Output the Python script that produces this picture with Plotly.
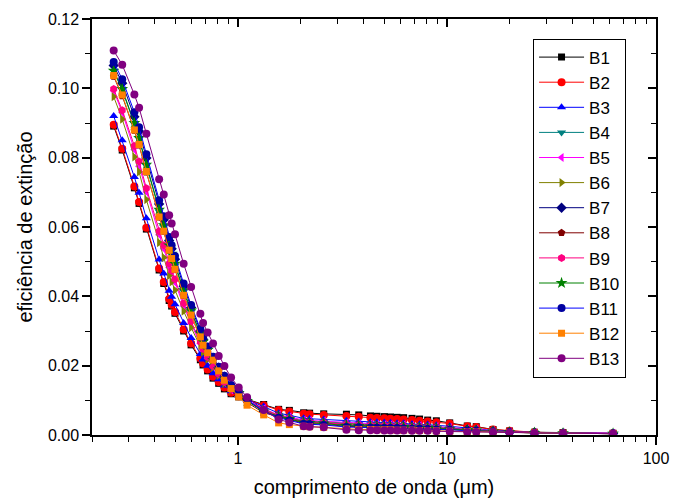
import plotly.graph_objects as go

# wavelength (micrometres)
wavelength = [0.254, 0.279, 0.319, 0.336, 0.364, 0.419, 0.441, 0.468, 0.481, 0.499, 0.549, 0.596,
              0.660, 0.680, 0.715, 0.759, 0.808, 0.860, 0.926, 1.007, 1.104, 1.326, 1.564, 1.76,
              2.06, 2.20, 2.57, 3.30, 3.78, 4.30, 4.62, 5.01, 5.36, 5.77, 6.20, 6.80, 7.39, 8.08,
              8.89, 10.3, 12.5, 13.8, 16.6, 19.9, 26.2, 35.9, 62.3]

b1 = [.0891, .0822, .0713, .0668, .0594, .0476, .0437, .0388, .0372, .0351, .0300, .0260, .0217, .0202, .0185, .0164,
      .0149, .0133, .0119, .0110, .0103, .0088, .0074, .0071, .0064, .0063, .0061, .0060, .0058, .0055, .0054, .0053,
      .0052, .0051, .0050, .0048, .0046, .0043, .0041, .0035, .0026, .0024, .0016, .00115, .0008, .0007, .0005]
b2 = [.0895, .0826, .0717, .0672, .0598, .0480, .0441, .0392, .0376, .0355, .0304, .0264, .0221, .0206, .0189, .0168,
      .0153, .0137, .0122, .0112, .0102, .0086, .0072, .0068, .0061, .0060, .0058, .0055, .0053, .0050, .0049, .0048,
      .0047, .0046, .0045, .0043, .0041, .0039, .0037, .0033, .0025, .0023, .0016, .0012, .0008, .0006, .0005]
b3 = [.0920, .0850, .0744, .0699, .0625, .0506, .0466, .0416, .0399, .0377, .0323, .0280, .0234, .0218, .0200, .0178,
      .0161, .0143, .0126, .0114, .0102, .0082, .0063, .0057, .0048, .0047, .0045, .0041, .0039, .0037, .0037, .0036,
      .0035, .0034, .0034, .0032, .0031, .0030, .0028, .0025, .0019, .0018, .0013, .0010, .0007, .0006, .0005]
b4 = [.1049, .0995, .0897, .0854, .0777, .0645, .0600, .0542, .0519, .0489, .0414, .0355, .0291, .0267, .0243, .0214,
      .0188, .0162, .0136, .0120, .0099, .0070, .0057, .0050, .0041, .0040, .0038, .0033, .0032, .0030, .0030, .0029,
      .0028, .0028, .0027, .0026, .0025, .0024, .0023, .0020, .0016, .0015, .0012, .0009, .0007, .0005, .0004]
b5 = [.0993, .0930, .0823, .0775, .0701, .0578, .0537, .0484, .0465, .0440, .0372, .0321, .0264, .0243, .0221, .0197,
      .0175, .0151, .0130, .0118, .0100, .0076, .0058, .0052, .0043, .0042, .0040, .0035, .0033, .0032, .0031, .0030,
      .0030, .0029, .0029, .0027, .0026, .0025, .0024, .0021, .0017, .0016, .0012, .0009, .0007, .0006, .0005]
b6 = [.0976, .0911, .0802, .0759, .0679, .0555, .0512, .0460, .0442, .0418, .0357, .0310, .0257, .0239, .0219, .0195,
      .0172, .0149, .0129, .0115, .0098, .0074, .0056, .0049, .0039, .0038, .0036, .0031, .0030, .0028, .0028, .0027,
      .0027, .0026, .0026, .0024, .0024, .0023, .0021, .0019, .0015, .0015, .0011, .0009, .0007, .0005, .0004]
b7 = [.1066, .1015, .0918, .0876, .0799, .0666, .0621, .0561, .0537, .0507, .0429, .0368, .0301, .0276, .0251, .0222,
      .0194, .0168, .0142, .0124, .0100, .0068, .0054, .0047, .0038, .0037, .0035, .0029, .0028, .0027, .0026, .0025,
      .0025, .0025, .0024, .0023, .0022, .0021, .0020, .0018, .0015, .0014, .0011, .0009, .0007, .0005, .0004]
b8 = [.1034, .0978, .0878, .0836, .0758, .0628, .0587, .0532, .0508, .0477, .0402, .0345, .0283, .0259, .0237, .0215,
      .0185, .0158, .0135, .0115, .0094, .0064, .0052, .0044, .0034, .0033, .0031, .0025, .0024, .0023, .0023, .0022,
      .0021, .0021, .0021, .0020, .0019, .0019, .0017, .0016, .0013, .0012, .0010, .0008, .0006, .0005, .0004]
b9 = [.0998, .0937, .0834, .0789, .0712, .0588, .0547, .0494, .0474, .0449, .0380, .0328, .0269, .0248, .0225, .0199,
      .0176, .0153, .0131, .0118, .0099, .0073, .0055, .0048, .0038, .0037, .0035, .0030, .0029, .0028, .0027, .0027,
      .0026, .0026, .0025, .0024, .0023, .0022, .0021, .0019, .0014, .0014, .0011, .0009, .0007, .0005, .0004]
b10 = [.1051, .0998, .0900, .0857, .0780, .0650, .0605, .0547, .0523, .0494, .0418, .0359, .0293, .0269, .0245, .0216,
       .0189, .0163, .0137, .0121, .0098, .0068, .0053, .0046, .0036, .0035, .0033, .0027, .0026, .0025, .0024, .0023,
       .0023, .0023, .0023, .0021, .0021, .0020, .0019, .0017, .0014, .0013, .0010, .0008, .0006, .0005, .0004]
b11 = [.1076, .1026, .0931, .0888, .0810, .0677, .0631, .0571, .0547, .0516, .0437, .0375, .0306, .0281, .0255, .0226,
       .0197, .0171, .0144, .0126, .0102, .0068, .0050, .0042, .0032, .0031, .0029, .0023, .0022, .0021, .0021, .0020,
       .0020, .0020, .0019, .0018, .0018, .0017, .0016, .0015, .0012, .0012, .0010, .0008, .0006, .0005, .0004]
b12 = [.1037, .0981, .0880, .0838, .0760, .0629, .0588, .0533, .0509, .0478, .0403, .0346, .0283, .0259, .0237, .0216,
       .0185, .0158, .0134, .0110, .0086, .0058, .0035, .0030, .0025, .0024, .0022, .0017, .0016, .0016, .0015, .0015,
       .0015, .0014, .0014, .0014, .0013, .0013, .0012, .0011, .0010, .0010, .0008, .0007, .0006, .0005, .0004]
b13 = [.1109, .1068, .0982, .0944, .0869, .0738, .0694, .0634, .0610, .0579, .0494, .0427, .0350, .0323, .0296, .0264,
       .0228, .0199, .0166, .0137, .0109, .0072, .0045, .0036, .0025, .0024, .0022, .0015, .0014, .0014, .0014, .0013,
       .0013, .0013, .0013, .0012, .0012, .0012, .0011, .0010, .0009, .0009, .0008, .0007, .0006, .0005, .0004]

names = ["B1", "B2", "B3", "B4", "B5", "B6", "B7", "B8", "B9", "B10", "B11", "B12", "B13"]
values = [b1, b2, b3, b4, b5, b6, b7, b8, b9, b10, b11, b12, b13]
marker_colors = ["#000000", "#FF0000", "#0000FF", "#008080", "#FF00FF", "#808000", "#000080",
                 "#800000", "#FF0080", "#008000", "#0000A0", "#FF8000", "#800080"]
line_colors = ["#000000", "#FF0000", "#0000FF", "#008080", "#FF00FF", "#808000", "#000080",
               "#800000", "#FF0080", "#008000", "#0000FF", "#FF8000", "#800080"]
symbols = ["square", "circle", "triangle-up", "triangle-down", "triangle-left", "triangle-right",
           "diamond", "pentagon", "hexagon", "star", "circle", "square", "circle"]
sizes = [7, 8, 8, 8, 8, 8, 8, 8, 8, 9, 8, 7, 8]

FONT = "Liberation Sans, Arial, sans-serif"

fig = go.Figure()
for nm, ys, mc, lc, sym, sz in zip(names, values, marker_colors, line_colors, symbols, sizes):
    fig.add_trace(go.Scatter(
        x=wavelength, y=ys, name=nm, mode="lines+markers",
        line=dict(color=lc, width=1),
        marker=dict(symbol=sym, color=mc, size=sz, line=dict(width=0)),
    ))

# invisible helper trace for the mirrored (top/right) axes
fig.add_trace(go.Scatter(x=[1], y=[0], xaxis="x2", yaxis="y2", mode="markers",
                         marker=dict(opacity=0), showlegend=False, hoverinfo="skip"))

xr = [-0.69897, 2.0]
fig.update_layout(
    width=673, height=503,
    margin=dict(l=92, r=17, t=19, b=68, autoexpand=False),
    paper_bgcolor="white", plot_bgcolor="white",
    font=dict(family=FONT, size=16, color="black"),
    showlegend=True,
    legend=dict(x=0.782, y=0.953, xanchor="left", yanchor="top",
                bordercolor="black", borderwidth=1, bgcolor="white",
                font=dict(size=17, family=FONT), itemwidth=45, tracegroupgap=0),
    xaxis=dict(type="log", range=xr, tickvals=[1, 10, 100], ticktext=["1", "10", "100"],
               automargin=False,
               ticks="outside", ticklen=8, tickwidth=1.5, tickcolor="black",
               showline=True, linecolor="black", linewidth=1.5, showgrid=False, zeroline=False,
               minor=dict(ticks="outside", ticklen=5, tickwidth=1.2, tickcolor="black", dtick="D1", showgrid=False),
               title=dict(text="comprimento de onda (μm)", font=dict(size=20), standoff=14),
               tickfont=dict(size=16)),
    yaxis=dict(range=[0, 0.12], dtick=0.02, tickformat=".2f", automargin=False,
               ticks="outside", ticklen=8, tickwidth=1.5, tickcolor="black",
               showline=True, linecolor="black", linewidth=1.5, showgrid=False, zeroline=False,
               minor=dict(ticks="outside", ticklen=5, tickwidth=1.2, tickcolor="black", dtick=0.01, showgrid=False),
               title=dict(text="eficiência de extinção", font=dict(size=20), standoff=10),
               tickfont=dict(size=16)),
    xaxis2=dict(type="log", range=xr, overlaying="x", side="top", anchor="y2", automargin=False,
                tickvals=[1, 10, 100], showticklabels=False,
                ticks="inside", ticklen=8, tickwidth=1.5, tickcolor="black",
                showline=True, linecolor="black", linewidth=1.5, showgrid=False, zeroline=False,
                minor=dict(ticks="inside", ticklen=5, tickwidth=1.2, tickcolor="black", dtick="D1", showgrid=False)),
    yaxis2=dict(range=[0, 0.12], dtick=0.02, overlaying="y", side="right", anchor="x2", automargin=False,
                showticklabels=False,
                ticks="inside", ticklen=8, tickwidth=1.5, tickcolor="black",
                showline=True, linecolor="black", linewidth=1.5, showgrid=False, zeroline=False,
                minor=dict(ticks="inside", ticklen=5, tickwidth=1.2, tickcolor="black", dtick=0.01, showgrid=False)),
)

fig.write_html("out.html", config={"displayModeBar": False},
               post_script="document.body.style.margin='0px';")
